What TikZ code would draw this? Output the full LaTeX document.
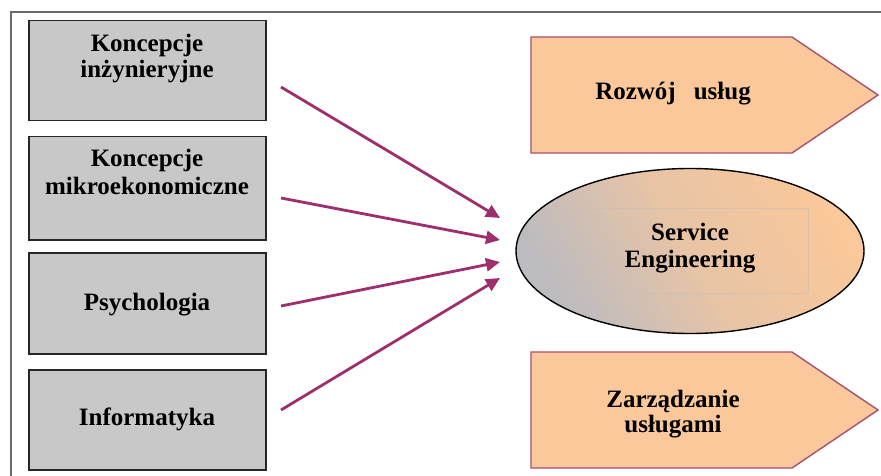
\documentclass[tikz,border=0pt]{standalone}
\usepackage{fontspec}
\setmainfont{Liberation Serif}
\usetikzlibrary{arrows.meta,shapes.geometric}
\definecolor{boxgray}{HTML}{C8C8C8}
\definecolor{peach}{HTML}{FAC89A}
\definecolor{pentline}{HTML}{A85070}
\definecolor{arrowc}{HTML}{9E2F6C}
\definecolor{ellgray}{HTML}{BCBBC0}
\definecolor{framec}{HTML}{6A6A6A}
\begin{document}
\begin{tikzpicture}[x=1pt,y=-1pt,
  graybox/.style={draw=black!85, line width=1.5pt, fill=boxgray, minimum width=237pt, minimum height=100pt, anchor=north west, inner sep=0pt},
  pent/.style={draw=pentline, line width=1.4pt, fill=peach, line join=miter},
  lbl/.style={font=\bfseries\fontsize{25}{27}\selectfont, inner sep=0pt, anchor=base},
  arr/.style={draw=arrowc, line width=2.8pt, -{Triangle[length=14pt,width=13pt]}}]
\useasboundingbox (0,0) rectangle (881,476);
\fill[white] (0,0) rectangle (881,476);
% frame
\draw[framec, line width=1.2pt] (11,476) -- (11,12) -- (881,12);
% left boxes
\node[graybox] (b1) at (28,20) {};
\node[graybox, minimum height=103pt] (b2) at (28,136) {};
\node[graybox, minimum height=101pt] (b3) at (28,252) {};
\node[graybox] (b4) at (28,369) {};
\node[lbl] (t1a) at (147,52) {Koncepcje};
\node[lbl] (t1b) at (147,78) {inżynieryjne};
\node[lbl] (t2a) at (147,167) {Koncepcje};
\node[lbl] (t2b) at (147,194) {mikroekonomiczne};
\node[lbl] (t3) at (147,310) {Psychologia};
\node[lbl] (t4) at (147,425) {Informatyka};
% pentagons
\draw[pent] (531,37) -- (792,37) -- (878,95) -- (792,153) -- (531,153) -- cycle;
\draw[pent] (531,352) -- (792,352) -- (878,410) -- (792,468) -- (531,468) -- cycle;
\node[lbl] (r1) at (673,100) {Rozwój\hspace{18pt}usług};
\node[lbl] (z1) at (673,407) {Zarządzanie};
\node[lbl] (z2) at (673,432) {usługami};
% ellipse
\node[ellipse, draw=black, line width=1.4pt, minimum width=348pt, minimum height=165pt,
      shading=axis, top color=peach, bottom color=ellgray, middle color=peach!70!ellgray, shading angle=-60] (se) at (690,251) {};
\draw[draw=ellgray!80!peach, line width=1pt, opacity=0.6] (575,208) rectangle (808,293);
\node[lbl] (s1) at (690,240) {Service};
\node[lbl] (s2) at (690,267) {Engineering};
% arrows
\coordinate (a1s) at (281,87);  \coordinate (a1e) at (500,218);
\coordinate (a2s) at (281,198); \coordinate (a2e) at (500,240);
\coordinate (a3s) at (281,306); \coordinate (a3e) at (500,262);
\coordinate (a4s) at (281,410); \coordinate (a4e) at (500,278);
\draw[arr] (a1s) -- (a1e);
\draw[arr] (a2s) -- (a2e);
\draw[arr] (a3s) -- (a3e);
\draw[arr] (a4s) -- (a4e);
\end{tikzpicture}
\end{document}
